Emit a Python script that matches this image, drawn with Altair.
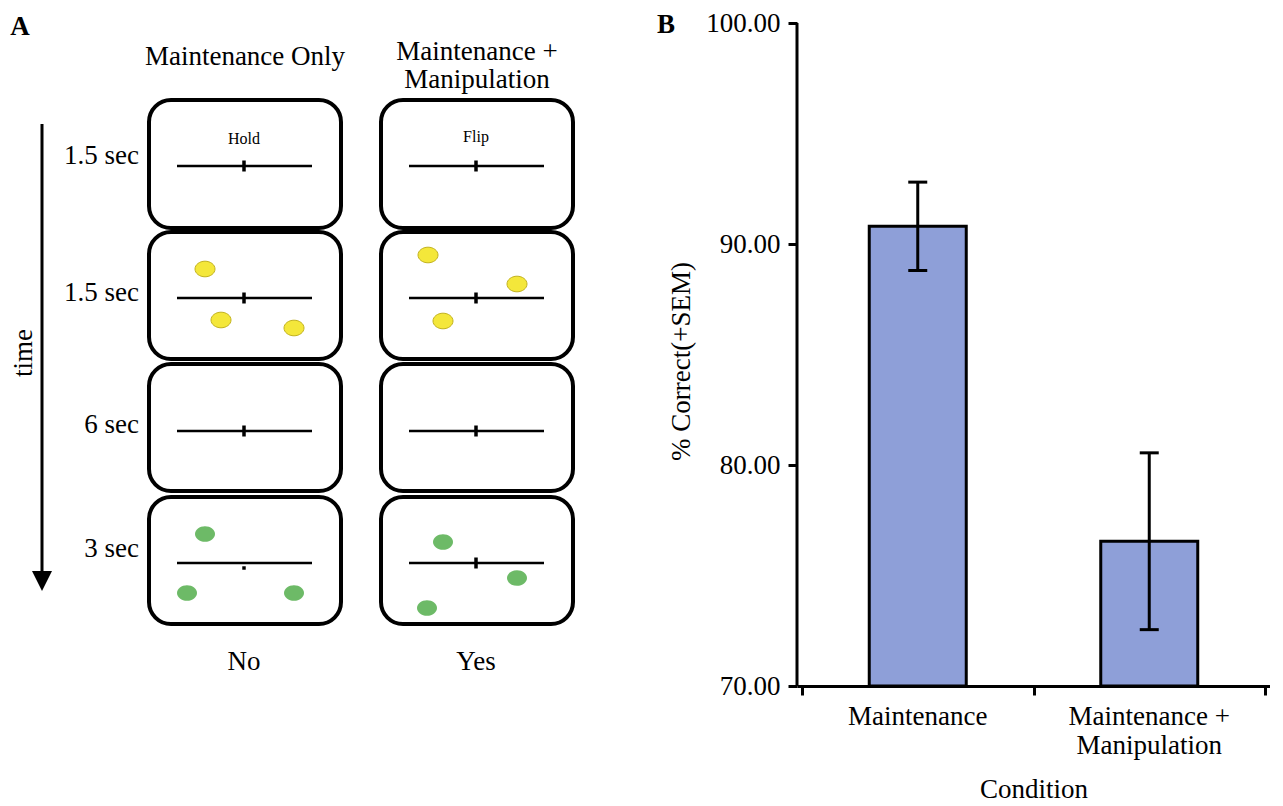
import altair as alt
import pandas as pd

FONT = "Liberation Serif"

# ---------------- Panel B data ----------------
conditions = ["Maintenance", "Maintenance +\nManipulation"]
cond_pos = [0.5, 1.5]
pct_correct = [90.8, 76.55]
sem = [2.0, 4.0]
y_ticks = [70, 80, 90, 100]
x_ticks = [0, 1, 2]

# ---------------- Panel A (task schematic) ----------------
col_titles = ["Maintenance Only", "Maintenance +\nManipulation"]
col_title_x = [245, 477]
col_title_y = [56, 51]
box_left = [149, 381]
box_right = [341, 573]
row_top = [99, 231, 363, 496]
row_bottom = [227, 358, 490, 623]
durations = ["1.5 sec", "1.5 sec", "6 sec", "3 sec"]
dur_y = [155, 292, 424, 548]
line_left = [177, 409]
line_right = [312, 544]
line_y = [165, 297, 430, 562]
fix_x = [244, 476]
cues = ["Hold", "Flip"]
cue_y = [138, 136]
yellow_x = [205, 221, 294, 428, 517, 443]
yellow_y = [268, 319, 327, 254, 283, 320]
green_x = [205, 187, 294, 443, 517, 427]
green_y = [533, 592, 592, 541, 577, 607]
answers = ["No", "Yes"]
answer_y = [661, 661]
time_x = [42]
time_top = [123]
time_tip = [580]

# ---------------- left panel (schematic) ----------------
OX, OY = 8, 8
W_L, H_L = 700, 782


def X(f):
    return alt.X(f, type="quantitative",
                 scale=alt.Scale(domain=[OX, OX + W_L], nice=False, zero=False),
                 axis=None)


def Y(f):
    return alt.Y(f, type="quantitative",
                 scale=alt.Scale(domain=[OY, OY + H_L], nice=False, zero=False, reverse=True),
                 axis=None)


boxes = pd.DataFrame([
    {"x0": box_left[c], "x1": box_right[c], "y0": row_top[r], "y1": row_bottom[r]}
    for c in range(2) for r in range(4)
])
lines = pd.DataFrame([
    {"x0": line_left[c], "x1": line_right[c], "y": line_y[r]}
    for c in range(2) for r in range(4)
])
fix = pd.DataFrame([
    {"x": fix_x[c], "y": line_y[r]}
    for c in range(2) for r in range(4) if not (c == 0 and r == 3)
])
fix_dot = pd.DataFrame({"x": [fix_x[0]], "y": [line_y[3] + 5]})
yellow = pd.DataFrame({"x": yellow_x, "y": yellow_y})
green = pd.DataFrame({"x": green_x, "y": green_y})

center_text = pd.DataFrame(
    [{"t": col_titles[i], "x": col_title_x[i], "y": col_title_y[i]} for i in range(2)]
    + [{"t": answers[i], "x": fix_x[i], "y": answer_y[i]} for i in range(2)]
)
cue_text = pd.DataFrame({"t": cues, "x": fix_x, "y": cue_y})
dur_text = pd.DataFrame({"t": durations, "x": [139] * 4, "y": dur_y})
panel_letters = pd.DataFrame({"t": ["A", "B"], "x": [20, 666], "y": [26, 24]})
time_label = pd.DataFrame({"t": ["time"], "x": [24], "y": [352]})
arrow = pd.DataFrame({"x": time_x, "y0": time_top, "y1": time_tip})

ELLIPSE = "M-1,0A1,0.78,0,1,1,1,0A1,0.78,0,1,1,-1,0Z"
TRI = "M-1,-1L1,-1L0,1Z"

l_boxes = alt.Chart(boxes).mark_rect(
    cornerRadius=22, fill="white", stroke="black", strokeWidth=4
).encode(x=X("x0"), x2=alt.X2("x1"), y=Y("y0"), y2=alt.Y2("y1"))

l_lines = alt.Chart(lines).mark_rule(color="black", strokeWidth=2.5).encode(
    x=X("x0"), x2=alt.X2("x1"), y=Y("y"))

l_fix = alt.Chart(fix).mark_tick(
    orient="vertical", size=11, thickness=3.5, color="black", opacity=1
).encode(x=X("x"), y=Y("y"))

l_fixdot = alt.Chart(fix_dot).mark_point(
    shape="square", size=12, filled=True, color="black", opacity=1
).encode(x=X("x"), y=Y("y"))

l_yellow = alt.Chart(yellow).mark_point(
    shape=ELLIPSE, size=400, filled=True, fill="#F4E73A", stroke="#C2B21E",
    strokeWidth=1, opacity=1
).encode(x=X("x"), y=Y("y"))

l_green = alt.Chart(green).mark_point(
    shape=ELLIPSE, size=400, filled=True, fill="#6DBA67", opacity=1
).encode(x=X("x"), y=Y("y"))

l_center = alt.Chart(center_text).mark_text(
    font=FONT, fontSize=27, color="black", align="center", baseline="middle",
    lineBreak="\n", lineHeight=28
).encode(x=X("x"), y=Y("y"), text="t:N")

l_cue = alt.Chart(cue_text).mark_text(
    font=FONT, fontSize=16, color="black", align="center", baseline="middle"
).encode(x=X("x"), y=Y("y"), text="t:N")

l_dur = alt.Chart(dur_text).mark_text(
    font=FONT, fontSize=27, color="black", align="right", baseline="middle"
).encode(x=X("x"), y=Y("y"), text="t:N")

l_letters = alt.Chart(panel_letters).mark_text(
    font=FONT, fontSize=27, fontWeight="bold", color="black", align="center",
    baseline="middle"
).encode(x=X("x"), y=Y("y"), text="t:N")

l_time = alt.Chart(time_label).mark_text(
    font=FONT, fontSize=27, color="black", align="center", baseline="middle",
    angle=270
).encode(x=X("x"), y=Y("y"), text="t:N")

l_arrow_line = alt.Chart(arrow).mark_rule(color="black", strokeWidth=3).encode(
    x=X("x"), y=Y("y0"), y2=alt.Y2("y1"))

l_arrow_head = alt.Chart(arrow).mark_point(
    shape=TRI, size=400, filled=True, color="black", opacity=1
).encode(x=X("x"), y=Y("y1"))

left = alt.layer(
    l_boxes, l_lines, l_fix, l_fixdot, l_yellow, l_green, l_center, l_cue,
    l_dur, l_letters, l_time, l_arrow_line, l_arrow_head
).properties(width=W_L, height=H_L)

# ---------------- right panel (bar chart) ----------------
W_R, H_R = 473, 677
PX_PER_UNIT = 663 / 30.0
top_pad_units = 14 / PX_PER_UNIT

bars_df = pd.DataFrame({
    "cond": conditions, "pos": cond_pos, "mean": pct_correct, "sem": sem,
})
bars_df["lo"] = bars_df["mean"] - bars_df["sem"]
bars_df["hi"] = bars_df["mean"] + bars_df["sem"]
axis_df = pd.DataFrame({"lo": [min(y_ticks)], "hi": [max(y_ticks)]})

x_scale = alt.Scale(domain=[0, 2], nice=False, zero=False)
y_scale = alt.Scale(domain=[70, 100 + top_pad_units], nice=False, zero=False)

x_axis = alt.Axis(
    values=x_ticks, labels=False, title="Condition", grid=False,
    tickSize=9, tickWidth=3, tickColor="black",
    domainColor="black", domainWidth=3,
    titleFont=FONT, titleFontSize=27, titleFontWeight="normal",
    titleColor="black", titlePadding=80,
)
y_axis = alt.Axis(
    values=y_ticks, format=".2f", title="% Correct(+SEM)", grid=False,
    domain=False, tickSize=9, tickWidth=3, tickColor="black",
    labelFont=FONT, labelFontSize=27, labelColor="black", labelPadding=8,
    titleFont=FONT, titleFontSize=27, titleFontWeight="normal",
    titleColor="black", titlePadding=10, titleY=352,
)

r_bars = alt.Chart(bars_df).mark_bar(
    size=97, fill="#8E9FD8", stroke="black", strokeWidth=3
).encode(
    x=alt.X("pos:Q", scale=x_scale, axis=x_axis),
    y=alt.Y("mean:Q", scale=y_scale, axis=y_axis),
    y2=alt.datum(70),
)

r_axis_line = alt.Chart(axis_df).mark_rule(color="black", strokeWidth=3).encode(
    x=alt.value(0), y=alt.Y("lo:Q", scale=y_scale), y2=alt.Y2("hi"))

r_err = alt.Chart(bars_df).mark_rule(color="black", strokeWidth=3).encode(
    x=alt.X("pos:Q", scale=x_scale), y=alt.Y("lo:Q", scale=y_scale), y2=alt.Y2("hi"))

r_cap_lo = alt.Chart(bars_df).mark_tick(
    orient="horizontal", size=19, thickness=3, color="black", opacity=1
).encode(x=alt.X("pos:Q", scale=x_scale), y=alt.Y("lo:Q", scale=y_scale))

r_cap_hi = alt.Chart(bars_df).mark_tick(
    orient="horizontal", size=19, thickness=3, color="black", opacity=1
).encode(x=alt.X("pos:Q", scale=x_scale), y=alt.Y("hi:Q", scale=y_scale))

r_labels = alt.Chart(bars_df).mark_text(
    font=FONT, fontSize=27, color="black", align="center", baseline="top",
    lineBreak="\n", lineHeight=29
).encode(x=alt.X("pos:Q", scale=x_scale), y=alt.value(H_R + 18), text="cond:N")

right = alt.layer(
    r_bars, r_axis_line, r_err, r_cap_lo, r_cap_hi, r_labels
).properties(width=W_R, height=H_R)

chart = alt.hconcat(left, right, spacing=89, bounds="flush").properties(
    padding=0, background="white"
).configure_view(stroke=None)

chart.save("out.html", embed_options={"renderer": "svg", "actions": False})
